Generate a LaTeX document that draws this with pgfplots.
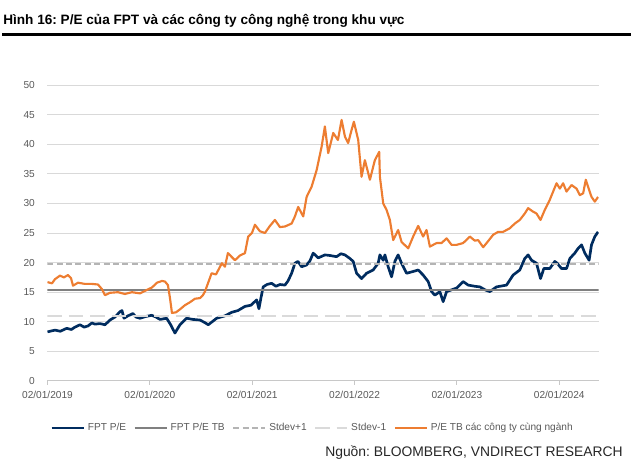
\documentclass[border=0pt]{standalone}
\usepackage{fontspec}
\setmainfont{Liberation Sans}
\usepackage{pgfplots}
\pgfplotsset{compat=1.18}
\frenchspacing
\definecolor{navy}{HTML}{002C5F}
\definecolor{orng}{HTML}{ED7D31}
\definecolor{meangray}{HTML}{808080}
\definecolor{sdp}{HTML}{B4B4B4}
\definecolor{sdm}{HTML}{DADADA}
\definecolor{gridc}{HTML}{D9D9D9}
\definecolor{axc}{HTML}{C8C8C8}
\definecolor{lbl}{HTML}{595959}
\begin{document}
\begin{tikzpicture}
\begin{scope}[x=0.75pt,y=0.75pt]
\path[use as bounding box] (0,0) rectangle (633,468);
\node[anchor=base west, font=\bfseries\fontsize{10.2}{12}\selectfont, inner sep=0] at (3,443) {Hình 16: P/E của FPT và các công ty công nghệ trong khu vực};
\draw[line width=2.2pt] (2,433.7) -- (631,433.7);
\node[anchor=base east, font=\fontsize{10.4}{12}\selectfont, text=black!85, inner sep=0] at (623,11) {Nguồn: BLOOMBERG, VNDIRECT RESEARCH};
\end{scope}
\begin{axis}[
  at={(35.625pt,65.25pt)}, anchor=south west,
  scale only axis, width=413.25pt, height=222pt,
  xmin=0, xmax=64.6, ymin=0, ymax=50,
  axis x line*=bottom, axis y line*=left,
  y axis line style={draw=none},
  x axis line style={draw=axc, line width=0.75pt},
  ytick={0,5,...,50},
  xtick={0,12,24,36,48,60},
  xticklabels={02/01/2019,02/01/2020,02/01/2021,02/01/2022,02/01/2023,02/01/2024},
  ymajorgrids, grid style={gridc, line width=0.75pt},
  ytick style={draw=none},
  xtick style={draw=axc, line width=0.75pt},
  tick align=outside, major tick length=3pt,
  tick label style={font=\fontsize{7.6}{9}\selectfont, text=lbl},
  /pgf/number format/assume math mode=true,
  yticklabel style={xshift=-3pt},
  xticklabel style={yshift=-1pt},
  legend columns=5,
  legend style={at={(0.0045,-0.159)}, anchor=west, draw=none, fill=none, inner sep=0pt,
    font=\fontsize{7.6}{9}\selectfont, text=lbl,
    nodes={inner sep=2.2pt},
    /tikz/every even column/.append style={column sep=3.5pt}},
  legend image code/.code={\draw[#1] (0pt,0pt) -- (24pt,0pt);},
]
\addplot[navy, line width=2pt, line join=round] coordinates {
(0,8.3)(0.88,8.6)(1.5,8.4)(2.25,8.9)(2.8,8.7)(3.22,9.1)(3.81,9.5)(4.3,9.1)(4.75,9.3)(5.2,9.8)(5.57,9.6)(6.15,9.7)(6.74,9.5)(7.33,10.3)(7.91,10.8)(8.5,11.7)(8.73,11.9)(8.97,10.6)(9.43,11.0)(10.02,11.4)(10.37,10.8)(10.84,10.6)(11.54,10.9)(12.21,11.1)(12.72,10.8)(13.19,10.4)(13.97,10.6)(14.44,9.5)(14.94,8.1)(15.53,9.5)(16.31,10.6)(17.05,10.4)(17.87,10.3)(18.4,9.9)(18.85,9.5)(19.83,10.6)(20.8,11.0)(21.59,11.6)(22.33,11.9)(23.15,12.6)(23.85,12.8)(24.52,13.7)(24.79,12.2)(25.02,14.0)(25.29,15.9)(25.73,16.3)(26.28,16.5)(26.78,16.0)(27.25,16.3)(27.84,16.2)(28.2,16.9)(28.62,18.2)(29.01,19.9)(29.36,20.2)(29.79,19.3)(30.38,19.6)(30.77,20.3)(31.15,21.6)(31.74,20.8)(32.52,21.3)(33.11,21.2)(33.89,21.0)(34.4,21.5)(34.87,21.3)(35.45,20.7)(35.84,20.2)(36.24,18.2)(36.82,17.3)(37.41,18.2)(38.18,18.75)(38.77,19.9)(38.97,21.3)(39.36,20.4)(39.56,21.3)(39.94,19.3)(40.34,17.6)(40.73,20.2)(41.11,21.3)(41.51,19.9)(42.1,18.2)(42.87,18.5)(43.46,18.75)(44.04,17.9)(44.63,16.8)(45.03,15.1)(45.42,14.5)(46.0,15.1)(46.39,13.4)(46.79,15.1)(47.37,15.4)(47.96,15.7)(48.73,16.8)(49.32,16.2)(50.1,16.0)(50.69,15.9)(51.3,15.4)(51.86,15.1)(52.64,15.9)(53.82,16.2)(54.59,17.9)(55.37,18.75)(55.96,20.7)(56.35,21.3)(56.75,20.4)(57.33,19.9)(57.8,17.3)(58.19,19.0)(58.89,19.0)(59.48,20.2)(59.75,19.9)(60.26,19.0)(60.85,19.0)(61.24,20.7)(61.82,21.6)(62.21,22.4)(62.61,23.0)(63.0,21.6)(63.5,20.4)(63.78,23.0)(64.17,24.4)(64.55,25.2)
};
\addlegendentry{FPT P/E}
\addplot[meangray, line width=1.5pt] coordinates {(0,15.35)(64.6,15.35)};
\addlegendentry{FPT P/E TB}
\addplot[sdp, line width=1.5pt, dash pattern=on 4.5pt off 2.5pt] coordinates {(0,19.7)(64.6,19.7)};
\addlegendentry{Stdev+1}
\addplot[sdm, line width=1.5pt, dash pattern=on 11pt off 5pt] coordinates {(0,11.0)(64.6,11.0)};
\addlegendentry{Stdev-1}
\addplot[orng, line width=1.6pt, line join=round] coordinates {
(0,16.7)(0.53,16.5)(0.88,17.2)(1.46,17.8)(1.93,17.5)(2.4,17.9)(2.75,17.4)(2.99,16.1)(3.57,16.6)(4.39,16.4)(5.22,16.4)(5.92,16.3)(6.39,15.5)(6.74,14.5)(7.33,14.9)(8.26,15.0)(9.08,14.7)(9.9,15.0)(10.84,14.8)(11.54,15.3)(12.25,15.8)(12.83,16.6)(13.42,16.9)(13.77,16.8)(14.12,16.2)(14.36,14.0)(14.59,11.5)(15.06,11.6)(15.53,12.1)(16.11,12.8)(16.7,13.3)(17.29,13.9)(17.87,14.0)(18.22,14.5)(18.46,15.1)(19.24,18.2)(19.75,18.0)(20.45,19.9)(20.8,19.3)(21.15,21.6)(21.98,20.4)(22.56,21.2)(23.15,21.6)(23.53,24.4)(23.97,25.0)(24.32,26.4)(24.9,25.3)(25.49,25.0)(26.08,26.2)(26.66,27.2)(27.25,26.0)(27.84,26.1)(28.62,26.6)(29.01,27.8)(29.39,29.4)(29.98,27.8)(30.38,31.1)(30.96,32.8)(31.55,35.6)(32.14,39.6)(32.52,43.0)(32.91,38.5)(33.5,41.9)(34.05,40.7)(34.48,44.1)(34.87,41.3)(35.25,40.2)(35.65,42.4)(35.92,43.8)(36.43,40.7)(36.82,34.5)(37.21,37.3)(37.8,34.0)(38.38,37.3)(38.89,38.7)(38.97,34.5)(39.36,30.0)(39.75,28.9)(40.14,27.2)(40.53,23.8)(41.11,25.5)(41.51,23.5)(42.29,22.4)(42.87,24.4)(43.46,26.2)(44.04,24.4)(44.44,25.5)(44.83,22.7)(45.61,23.3)(46.2,23.3)(46.79,24.1)(47.37,23.0)(47.96,23.0)(48.73,23.3)(49.52,24.4)(50.1,23.7)(50.49,23.8)(51.08,22.6)(51.48,23.3)(52.25,24.7)(52.84,25.2)(53.42,25.2)(54.2,25.8)(54.79,26.6)(55.37,27.2)(55.96,28.3)(56.35,29.2)(56.93,28.6)(57.33,28.3)(57.8,27.2)(58.3,28.9)(58.89,30.6)(59.28,32.0)(59.68,33.4)(60.07,32.5)(60.45,33.4)(60.85,32.0)(61.44,33.1)(62.02,32.5)(62.41,31.4)(62.8,31.7)(63.11,34.0)(63.38,32.8)(63.78,31.1)(64.17,30.3)(64.55,31.1)
};
\addlegendentry{P/E TB các công ty cùng ngành}
\end{axis}
\end{tikzpicture}
\end{document}
